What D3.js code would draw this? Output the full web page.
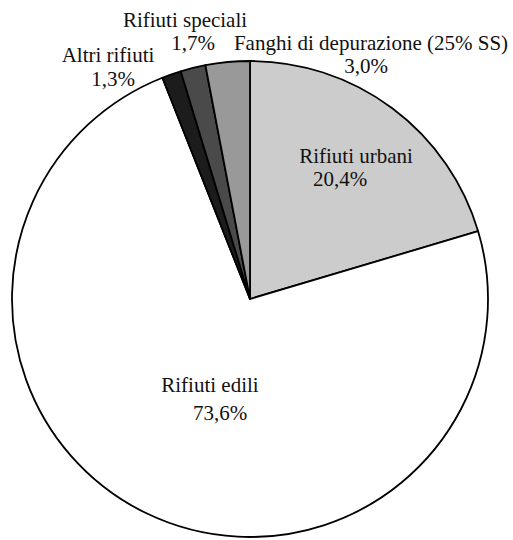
<!DOCTYPE html>
<html>
<head>
<meta charset="utf-8">
<script src="https://cdn.jsdelivr.net/npm/d3@7"></script>
<style>
  body { margin: 0; background: #fff; }
  svg text { font-family: "Liberation Serif", "Times New Roman", serif; font-size: 21px; fill: #111; }
</style>
</head>
<body>
<div id="container"></div>
<script>
// Data
const categories = ["Rifiuti urbani", "Rifiuti edili", "Altri rifiuti", "Rifiuti speciali", "Fanghi di depurazione (25% SS)"];
const shares = [20.4, 73.6, 1.3, 1.7, 3.0];
const shareLabels = ["20,4%", "73,6%", "1,3%", "1,7%", "3,0%"];
const fills = ["#cccccc", "#ffffff", "#1c1c1c", "#4a4a4a", "#999999"];

// label placement: [x, y of name baseline, x of value, y of value]
const labelPos = [
  [356, 163, 340, 186],
  [210, 392, 220, 420],
  [108, 62, 113, 86],
  [185, 27, 193, 50],
  [371, 50, 366, 73]
];

const width = 513;
const height = 540;
const cx = 250;
const cy = 299;
const radius = 238;

const svg = d3
  .select("#container")
  .append("svg")
  .attr("width", width)
  .attr("height", height);

const pie = d3.pie().sort(null).value((d) => d.value);
const arc = d3.arc().innerRadius(0).outerRadius(radius);

const data = categories.map((c, i) => ({ name: c, value: shares[i], i: i }));

const g = svg.append("g").attr("transform", `translate(${cx},${cy})`);

g.selectAll("path")
  .data(pie(data))
  .enter()
  .append("path")
  .attr("d", arc)
  .attr("fill", (d) => fills[d.data.i])
  .attr("stroke", "#000")
  .attr("stroke-width", 1.8)
  .attr("stroke-linejoin", "round");

// Labels
const labels = svg.append("g");
data.forEach((d) => {
  const p = labelPos[d.i];
  labels.append("text")
    .attr("x", p[0]).attr("y", p[1])
    .attr("text-anchor", "middle")
    .text(d.name);
  labels.append("text")
    .attr("x", p[2]).attr("y", p[3])
    .attr("text-anchor", "middle")
    .text(shareLabels[d.i]);
});
</script>
</body>
</html>
